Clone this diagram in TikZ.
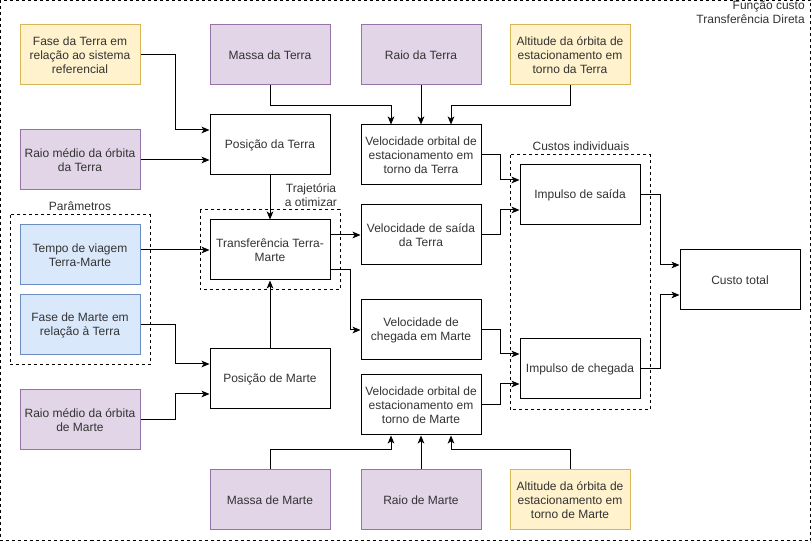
\documentclass[tikz,border=0pt]{standalone}
\usepackage{fontspec}
\setmainfont{Liberation Sans}
\usetikzlibrary{arrows.meta}
\definecolor{yelF}{HTML}{FFF2CC}\definecolor{yelD}{HTML}{D6B656}
\definecolor{purF}{HTML}{E1D5E7}\definecolor{purD}{HTML}{9673A6}
\definecolor{bluF}{HTML}{DAE8FC}\definecolor{bluD}{HTML}{6C8EBF}
\definecolor{txt}{HTML}{333333}
\begin{document}
\begin{tikzpicture}[x=0.75pt,y=-0.75pt,
  every node/.style={font=\fontsize{9}{10.5}\selectfont, text=txt},
  box/.style={draw=black, fill=white, line width=0.75pt, minimum width=90pt, minimum height=45pt, inner sep=0pt, align=center},
  yel/.style={box, fill=yelF, draw=yelD},
  pur/.style={box, fill=purF, draw=purD},
  blu/.style={box, fill=bluF, draw=bluD},
  grp/.style={draw=black, line width=0.75pt, dash pattern=on 2.25pt off 2.25pt},
  arr/.style={draw=black, line width=0.75pt, -{Stealth[length=6pt,width=5pt,inset=1.6pt]}},
  lbl/.style={inner sep=0pt, align=center}
]
\useasboundingbox (0,0) rectangle (811,541);
\fill[white] (0,0) rectangle (811,541);
% group frames
\draw[grp] (0.5,0.5) rectangle (810.5,540.5);
\draw[grp] (200,210) rectangle (340,290);
\draw[grp] (10,215) rectangle (150,365);
\draw[grp] (510,155) rectangle (650,410);
% labels
\node[lbl, anchor=north east, align=right] (lblF) at (805,1) {Função custo\\Transferência Direta};
\node[lbl] (lblT) at (311,195) {Trajetória\\a otimizar};
\node[lbl] (lblP) at (80,206) {Parâmetros};
\node[lbl] (lblC) at (581,146) {Custos individuais};
% nodes
\node[yel] (faseT) at (80,55) {Fase da Terra em\\relação ao sistema\\referencial};
\node[pur] (massaT) at (270,55) {Massa da Terra};
\node[pur] (raioT) at (421,55) {Raio da Terra};
\node[yel] (altT) at (570,55) {Altitude da órbita de\\estacionamento em\\torno da Terra};
\node[box] (posT) at (270,145) {Posição da Terra};
\node[pur] (raioMT) at (80,160) {Raio médio da órbita\\da Terra};
\node[box] (velOT) at (421,155) {Velocidade orbital de\\estacionamento em\\torno da Terra};
\node[box] (traj) at (270,250) {Transferência Terra-\\Marte};
\node[box] (velS) at (421,235) {Velocidade de saída\\da Terra};
\node[blu] (tempo) at (80,255) {Tempo de viagem\\Terra-Marte};
\node[blu] (faseM) at (80,325) {Fase de Marte em\\relação à Terra};
\node[box] (posM) at (270,379) {Posição de Marte};
\node[pur] (raioMM) at (80,420) {Raio médio da órbita\\de Marte};
\node[box] (velC) at (421,330) {Velocidade de\\chegada em Marte};
\node[box] (velOM) at (421,405) {Velocidade orbital de\\estacionamento em\\torno de Marte};
\node[pur] (massaM) at (270,500) {Massa de Marte};
\node[pur] (raioM) at (421,500) {Raio de Marte};
\node[yel] (altM) at (570,500) {Altitude da órbita de\\estacionamento em\\torno de Marte};
\node[box] (impS) at (580,195) {Impulso de saída};
\node[box] (impC) at (580,369) {Impulso de chegada};
\node[box] (custo) at (740,280) {Custo total};
% connectors
\draw[arr] (faseT.east) -- ++(35,0) |- ([yshift=11.25pt]posT.west);
\draw[arr] (raioMT.east) -- ([yshift=-11.25pt]posT.west);
\draw[arr] (massaT.south) -- ++(0,20) -| ([xshift=-22.5pt]velOT.north);
\draw[arr] (raioT.south) -- (velOT.north);
\draw[arr] (altT.south) -- ++(0,20) -| ([xshift=22.5pt]velOT.north);
\draw[arr] (posT.south) -- (traj.north);
\draw[arr] (traj.west -| tempo.east) -- (traj.west);
\draw[arr] (velS.west -| traj.east) -- (velS.west);
\draw[arr] ([yshift=-15pt]traj.east) -- ++(20,0) |- (velC.west);
\draw[arr] (faseM.east) -- ++(35,0) |- ([yshift=11.25pt]posM.west);
\draw[arr] (raioMM.east) -- ++(35,0) |- ([yshift=-11.25pt]posM.west);
\draw[arr] (posM.north) -- (traj.south);
\draw[arr] (massaM.north) -- ++(0,-20) -| ([xshift=-22.5pt]velOM.south);
\draw[arr] (raioM.north) -- (velOM.south);
\draw[arr] (altM.north) -- ++(0,-20) -| ([xshift=22.5pt]velOM.south);
\draw[arr] (velOT.east) -- ++(19,0) |- ([yshift=11.25pt]impS.west);
\draw[arr] (velS.east) -- ++(19,0) |- ([yshift=-11.25pt]impS.west);
\draw[arr] (velC.east) -- ++(19,0) |- ([yshift=11.25pt]impC.west);
\draw[arr] (velOM.east) -- ++(19,0) |- ([yshift=-11.25pt]impC.west);
\draw[arr] (impS.east) -- ++(20,0) |- ([yshift=11.25pt]custo.west);
\draw[arr] (impC.east) -- ++(20,0) |- ([yshift=-11.25pt]custo.west);
\end{tikzpicture}
\end{document}
